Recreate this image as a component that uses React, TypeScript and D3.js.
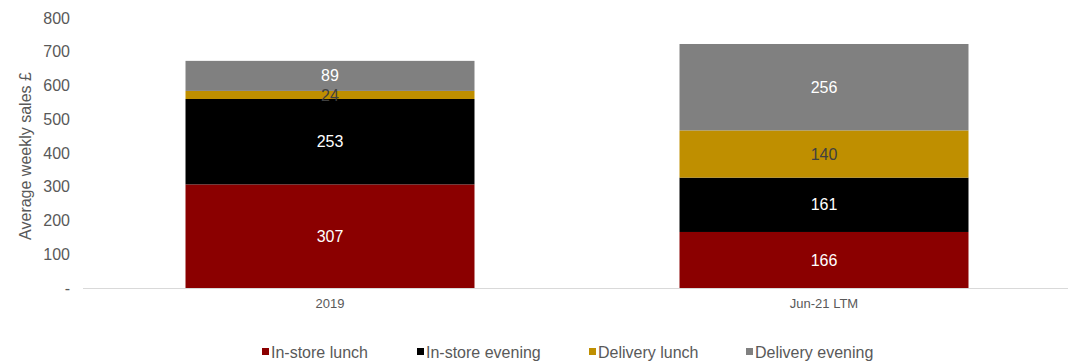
import React from "react";
import * as d3 from "d3";

const categories = ["2019", "Jun-21 LTM"];
const seriesNames = ["In-store lunch", "In-store evening", "Delivery lunch", "Delivery evening"];
const instoreLunch = [307, 166];
const instoreEvening = [253, 161];
const deliveryLunch = [24, 140];
const deliveryEvening = [89, 256];
const yTicks = [0, 100, 200, 300, 400, 500, 600, 700, 800];
const yTickLabels = ["-", "100", "200", "300", "400", "500", "600", "700", "800"];

const colors = ["#8B0000", "#000000", "#BF8F00", "#808080"];
const labelColors = ["#ffffff", "#ffffff", "#404040", "#ffffff"];

export default function App() {
  const W = 1068, H = 361;
  const x0 = 83, x1 = 1071;
  const x = d3.scaleBand().domain(categories).range([x0, x1]).paddingInner(0.415).paddingOuter(0.2075);
  const y = d3.scaleLinear().domain([0, 800]).range([288, 18]);
  const series = [instoreLunch, instoreEvening, deliveryLunch, deliveryEvening];
  const rows = categories.map((c, i) => {
    const r: any = { cat: c };
    seriesNames.forEach((s, j) => (r[s] = series[j][i]));
    return r;
  });
  const stacked = d3.stack().keys(seriesNames)(rows);
  const font = "Arial, 'Liberation Sans', sans-serif";
  const legendX = [262, 417, 589, 746];
  return (
    <svg width={W} height={H} style={{ position: "absolute", left: 0, top: 0 }} fontFamily={font}>
      <rect width={W} height={H} fill="#fff" />
      {yTicks.map((t, i) => (
        <text key={t} x={70} y={y(t)} dy="0.35em" textAnchor="end" fontSize={16} fill="#595959">
          {yTickLabels[i]}
        </text>
      ))}
      <text transform={`translate(31,156) rotate(-90)`} textAnchor="middle" fontSize={16} fill="#595959">
        Average weekly sales £
      </text>
      {stacked.map((layer, j) =>
        layer.map((d, i) => (
          <rect key={`${j}-${i}`} x={x(categories[i])} width={x.bandwidth()} y={y(d[1])} height={y(d[0]) - y(d[1])} fill={colors[j]} />
        ))
      )}
      <line x1={x0} x2={W} y1={288.5} y2={288.5} stroke="#D9D9D9" strokeWidth={1} />
      {stacked.map((layer, j) =>
        layer.map((d, i) => (
          <text key={`l${j}-${i}`} x={x(categories[i])! + x.bandwidth() / 2} y={(y(d[0]) + y(d[1])) / 2} dy="0.35em" textAnchor="middle" fontSize={16} fill={labelColors[j]}>
            {series[j][i]}
          </text>
        ))
      )}
      {categories.map((c) => (
        <text key={c} x={x(c)! + x.bandwidth() / 2} y={303} dy="0.35em" textAnchor="middle" fontSize={13} fill="#595959">
          {c}
        </text>
      ))}
      {seriesNames.map((s, j) => (
        <g key={s}>
          <rect x={legendX[j]} y={348} width={7} height={7} fill={colors[j]} />
          <text x={legendX[j] + 9} y={352} dy="0.35em" fontSize={16} fill="#595959">
            {s}
          </text>
        </g>
      ))}
    </svg>
  );
}
